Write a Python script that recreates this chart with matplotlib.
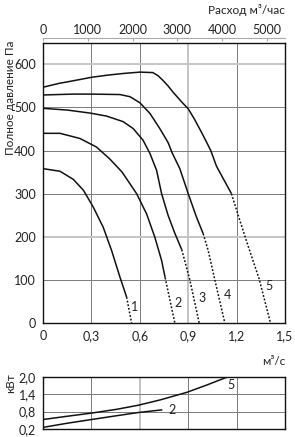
import matplotlib
matplotlib.use('Agg')
import matplotlib.pyplot as plt

plt.rcParams['font.family'] = ['Lato', 'DejaVu Sans']

# pressure curves: flow (m3/s), pressure (Pa); solid part and dashed tail
curve_names = ['1', '2', '3', '4', '5']
solid_q = [
    [0, 0.105, 0.188, 0.25, 0.311, 0.373, 0.425, 0.477, 0.518],
    [0, 0.105, 0.229, 0.332, 0.415, 0.49, 0.58, 0.642, 0.693, 0.735, 0.757],
    [0, 0.15, 0.291, 0.394, 0.497, 0.559, 0.62, 0.663, 0.704, 0.735, 0.775, 0.815, 0.86],
    [0, 0.188, 0.3, 0.477, 0.539, 0.6, 0.663, 0.724, 0.776, 0.80, 0.848, 0.90, 0.951, 0.993],
    [0, 0.1, 0.188, 0.3, 0.4, 0.5, 0.6, 0.68, 0.712, 0.743, 0.775, 0.805, 0.859, 0.90,
     0.94, 0.99, 1.04, 1.075, 1.12, 1.168],
]
solid_p = [
    [358, 352, 333, 308, 269, 222, 168, 106, 60],
    [440, 440, 428, 408, 380, 350, 300, 253, 199, 145, 105],
    [498, 494, 487, 480, 467, 451, 424, 393, 354, 300, 250, 210, 170],
    [529, 531, 531, 530, 525, 511, 486, 451, 418, 395, 358, 300, 246, 207],
    [547, 556, 562, 570, 575, 579, 582, 581, 574, 563, 550, 536, 513, 497,
     472, 437, 400, 364, 333, 300],
]
dash_q = [
    [0.518, 0.549],
    [0.757, 0.817],
    [0.86, 0.91, 0.968],
    [0.993, 1.024, 1.065, 1.127],
    [1.168, 1.22, 1.27, 1.34, 1.41],
]
dash_p = [
    [60, 0],
    [105, 0],
    [170, 100, 0],
    [207, 168, 100, 0],
    [300, 238, 180, 102, 0],
]
label_q = [0.57, 0.838, 0.985, 1.146, 1.40]
label_p = [38, 46, 58, 65, 86]

# power curves (kW)
power_names = ['2', '5']
power_q = [
    [0, 0.147, 0.30, 0.456, 0.59, 0.735],
    [0, 0.147, 0.30, 0.456, 0.59, 0.724, 0.89, 1.013, 1.148],
]
power_kw = [
    [0.26, 0.40, 0.53, 0.66, 0.77, 0.86],
    [0.53, 0.64, 0.75, 0.88, 1.02, 1.20, 1.46, 1.71, 2.0],
]
power_label_q = [0.80, 1.168]
power_label_kw = [0.86, 1.70]

xticks = [0, 0.3, 0.6, 0.9, 1.2, 1.5]
xtick_labels = ['0', '0,3', '0,6', '0,9', '1,2', '1,5']
yticks = [0, 100, 200, 300, 400, 500, 600]
top_ticks = [0, 1000, 2000, 3000, 4000, 5000]
kw_ticks = [0.2, 0.8, 1.4, 2.0]
kw_labels = ['0,2', '0,8', '1,4', '2,0']

txt = '#222222'
grid_dark = '#7a7a7a'
grid_light = '#c4c4c4'

fig = plt.figure(figsize=(2.95, 4.37), dpi=100)
ax = fig.add_axes([0.146, 0.261, 0.82, 0.641])
axp = fig.add_axes([0.146, 0.018, 0.82, 0.12])

# main chart
for q in [0.3, 0.6, 1.2]:
    ax.axvline(q, color=grid_dark, lw=0.7, zorder=0)
ax.axvline(0.9, color=grid_light, lw=1.4, zorder=0)
for p in [100, 300, 400, 500]:
    ax.axhline(p, color=grid_dark, lw=0.7, zorder=0)
for p in [200, 600]:
    ax.axhline(p, color=grid_light, lw=1.4, zorder=0)

for i in range(len(curve_names)):
    ax.plot(solid_q[i], solid_p[i], color='#111111', lw=1.1,
            solid_joinstyle='round', solid_capstyle='butt')
    ax.plot(dash_q[i], dash_p[i], color='#111111', lw=1.1, linestyle=(0, (1.2, 1.2)))
    ax.text(label_q[i], label_p[i], curve_names[i], fontsize=9, color=txt,
            ha='center', va='center')

ax.set_xlim(0, 1.5)
ax.set_ylim(0, 650)
ax.set_xticks(xticks)
ax.set_xticklabels(xtick_labels)
ax.set_yticks(yticks)
ax.tick_params(length=0, labelsize=9, labelcolor=txt, pad=5)
for s in ax.spines.values():
    s.set_linewidth(1.0)
    s.set_color('#111111')

top = ax.secondary_xaxis('top', functions=(lambda q: q * 3600, lambda h: h / 3600))
top.set_xticks(top_ticks)
top.spines['top'].set_position(('outward', 3.6))
top.spines['top'].set_color('#aaaaaa')
top.spines['top'].set_linewidth(0.8)
top.tick_params(direction='in', length=2.5, color='#aaaaaa', labelsize=9,
                labelcolor=txt, pad=1.5)

fig.text(0.966, 0.977, 'Расход м³/час', ha='right', va='center', fontsize=8.5, color=txt)
fig.text(0.035, 0.776, 'Полное давление Па', rotation=90, ha='center', va='center',
         fontsize=8.5, color=txt)
fig.text(0.966, 0.172, 'м³/с', ha='right', va='center', fontsize=8.5, color=txt)
fig.text(0.035, 0.124, 'кВт', rotation=90, ha='center', va='center',
         fontsize=8.5, color=txt)

# power chart
for q in [0.3, 0.9, 1.2]:
    axp.axvline(q, color=grid_dark, lw=0.7, zorder=0)
axp.axvline(0.6, color=grid_light, lw=1.4, zorder=0)
for k in [0.8, 1.4]:
    axp.axhline(k, color=grid_dark, lw=0.7, zorder=0)

for i in range(len(power_names)):
    axp.plot(power_q[i], power_kw[i], color='#111111', lw=1.1, solid_joinstyle='round')
    axp.text(power_label_q[i], power_label_kw[i], power_names[i], fontsize=9,
             color=txt, ha='center', va='center')

axp.set_xlim(0, 1.5)
axp.set_ylim(0.2, 2.0)
axp.set_xticks([])
axp.set_yticks(kw_ticks)
axp.set_yticklabels(kw_labels)
axp.tick_params(length=0, labelsize=9, labelcolor=txt, pad=5)
for s in axp.spines.values():
    s.set_linewidth(1.0)
    s.set_color('#111111')

fig.savefig('out.png', dpi=100)
